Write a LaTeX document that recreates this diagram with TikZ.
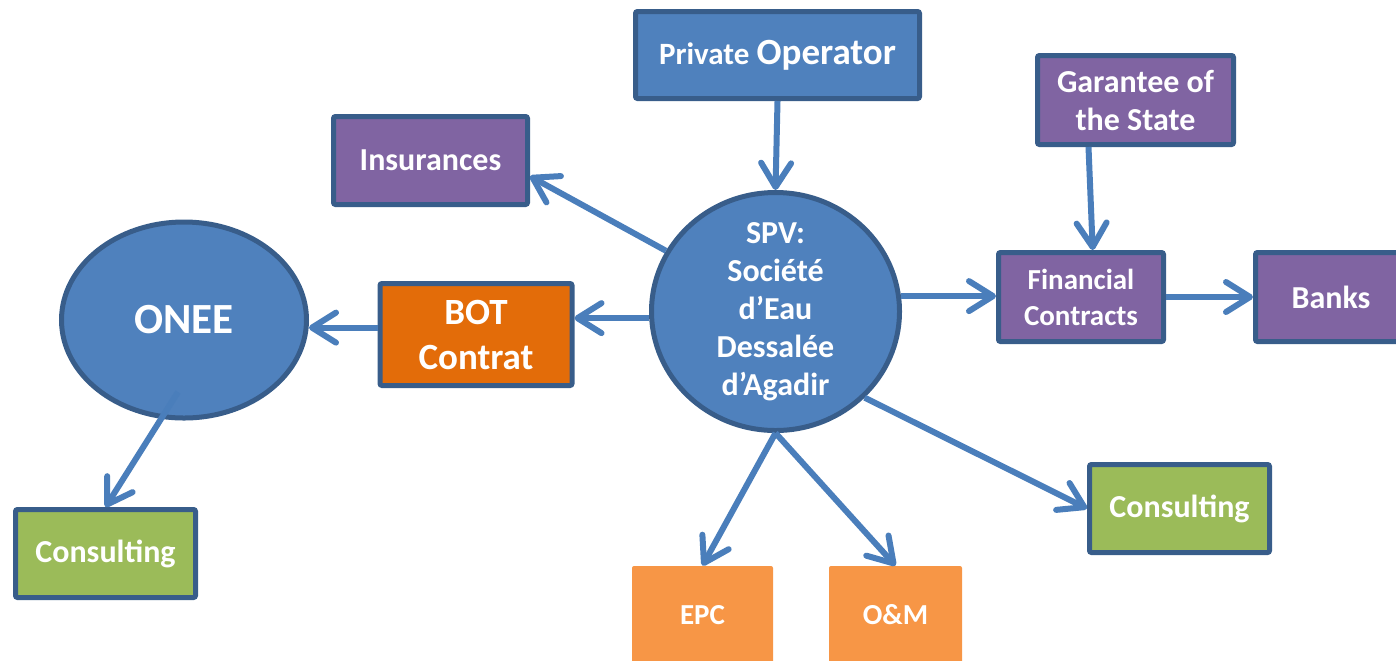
\documentclass[tikz,border=0pt]{standalone}
\usepackage{fontspec}
\setmainfont{Carlito}
\usepackage{tikz}
\usetikzlibrary{arrows.meta, shapes.geometric}

\definecolor{edgeblue}{HTML}{385D8A}
\definecolor{fillblue}{HTML}{4F81BD}
\definecolor{linkblue}{HTML}{4A7EBB}
\definecolor{fillpurple}{HTML}{8064A2}
\definecolor{filldorange}{HTML}{E36C09}
\definecolor{fillgreen}{HTML}{9BBB59}
\definecolor{filllorange}{HTML}{F79646}

\begin{document}
\begin{tikzpicture}[x=0.5pt, y=-0.5pt,
    box/.style={draw=edgeblue, line width=2.5pt, rounded corners=1pt, text=white,
      font=\fontsize{16}{19}\selectfont\bfseries, align=center, inner sep=0pt},
    flatbox/.style={rectangle, rounded corners=1pt, text=white,
      font=\fontsize{14.5}{18}\selectfont\bfseries, inner sep=0pt},
    blob/.style={ellipse, draw=edgeblue, line width=2.5pt, fill=fillblue, inner sep=0pt},
    link/.style={draw=linkblue, line width=3pt, -{Straight Barb[length=12pt,width=15pt,round]}}]
    \useasboundingbox (0,0) rectangle (1396,660);

    \node[blob, minimum width=124pt, minimum height=119pt,
      label={[text=white, font=\fontsize{16}{19}\selectfont\bfseries, align=center]center:SPV:\\Société\\d’Eau\\Dessalée\\d’Agadir}]
      (spv) at (775.5, 311.5) {};
    \node[blob, minimum width=122.5pt, minimum height=98pt, text=white,
      font=\fontsize{21.5}{24}\selectfont\bfseries] (onee) at (184, 320) {ONEE};

    \node[box, fill=fillblue, minimum width=142pt, minimum height=43.5pt] (priv) at (777.5, 55)
      {\raisebox{-2pt}{{\fontsize{15.5}{18}\selectfont Private} {\fontsize{18.5}{22}\selectfont Operator}}};
    \node[box, fill=fillpurple, minimum width=97pt, minimum height=44pt] (ins) at (430.5, 160.5) {Insurances};
    \node[box, fill=fillpurple, minimum width=98pt, minimum height=44.5pt] (gar) at (1135.5, 100) {Garantee of\\the State};
    \node[box, fill=fillpurple, minimum width=82.5pt, minimum height=44.5pt,
      font=\fontsize{14.5}{18}\selectfont\bfseries] (fin) at (1081, 297) {Financial\\Contracts};
    \node[box, fill=fillpurple, minimum width=75.5pt, minimum height=44.5pt] (banks) at (1331, 297) {Banks};
    \node[box, fill=filldorange, minimum width=96pt, minimum height=51pt,
      font=\fontsize{18.5}{22.5}\selectfont\bfseries] (bot) at (476, 334.5) {BOT\\Contrat};
    \node[box, fill=fillgreen, minimum width=90pt, minimum height=44pt] (consl) at (105.5, 553.5) {Consulting};
    \node[box, fill=fillgreen, minimum width=90pt, minimum height=44pt] (consr) at (1179.5, 508.5) {Consulting};
    \node[flatbox, fill=filllorange, minimum width=70.5pt, minimum height=49pt] (epc) at (702.5, 615) {EPC};
    \node[flatbox, fill=filllorange, minimum width=66.5pt, minimum height=49pt] (om) at (895.5, 615) {O\&M};

    \coordinate (oneefoot) at (178, 392);

    \draw[link] (priv.south) -- (spv.north); % priv-spv
    \draw[link] (spv.151) -- (ins.-9); % spv-ins
    \draw[link] (spv.183) -- (spv.183 -| bot.east); % spv-bot
    \draw[link] (bot.176) -- (bot.176 -| onee.east); % bot-onee
    \draw[link] (oneefoot) -- (consl.north); % onee-consl
    \draw[link] (spv.7) -- (spv.7 -| fin.west); % spv-fin
    \draw[link] (gar.225) -- (fin.76); % gar-fin
    \draw[link] (fin.east) -- (banks.west); % fin-banks
    \draw[link] (spv.-44) -- (consr.west); % spv-consr
    \draw[link] (spv.south) -- (epc.north); % spv-epc
    \draw[link] (spv.south) -- (om.north); % spv-om
\end{tikzpicture}
\end{document}
